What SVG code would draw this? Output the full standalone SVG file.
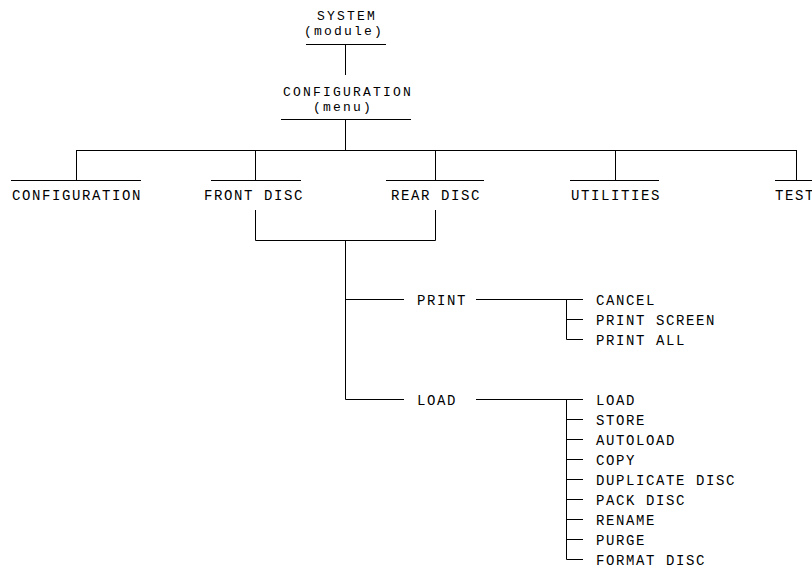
<svg xmlns="http://www.w3.org/2000/svg" width="812" height="569" viewBox="0 0 812 569">
<style>
text{font-family:"Liberation Mono","DejaVu Sans Mono",monospace;font-size:14px;letter-spacing:1.6px;fill:#000}
text.s{font-size:13px;letter-spacing:2.2px}
.c line,.c path{stroke:#000;stroke-width:1;fill:none}
</style>
<rect width="812" height="569" fill="#fff"/>
<g class="c" id="connectors">
<line x1="306" y1="44.5" x2="386" y2="44.5"/>
<line x1="345.5" y1="44" x2="345.5" y2="75"/>
<line x1="281" y1="119.5" x2="411" y2="119.5"/>
<line x1="345.5" y1="119" x2="345.5" y2="150"/>
<line x1="76" y1="150.5" x2="796.5" y2="150.5"/>
<line x1="76.5" y1="150" x2="76.5" y2="180"/>
<line x1="255.5" y1="150" x2="255.5" y2="180"/>
<line x1="435.5" y1="150" x2="435.5" y2="180"/>
<line x1="615.5" y1="150" x2="615.5" y2="180"/>
<line x1="796.5" y1="150" x2="796.5" y2="180"/>
<line x1="11" y1="180.5" x2="141" y2="180.5"/>
<line x1="211" y1="180.5" x2="301" y2="180.5"/>
<line x1="386" y1="180.5" x2="484" y2="180.5"/>
<line x1="570" y1="180.5" x2="659" y2="180.5"/>
<line x1="775" y1="180.5" x2="812" y2="180.5"/>
<path d="M255.5 210V240.5H435.5V210"/>
<path d="M345.5 240V399.5H404"/>
<line x1="345" y1="299.5" x2="404" y2="299.5"/>
<line x1="476" y1="299.5" x2="583" y2="299.5"/>
<path d="M566.5 299V339.5H583"/>
<line x1="566" y1="319.5" x2="583" y2="319.5"/>
<line x1="476" y1="399.5" x2="583" y2="399.5"/>
<path d="M566.5 399V559.5H583"/>
<line x1="566" y1="419.5" x2="583" y2="419.5"/>
<line x1="566" y1="439.5" x2="583" y2="439.5"/>
<line x1="566" y1="459.5" x2="583" y2="459.5"/>
<line x1="566" y1="479.5" x2="583" y2="479.5"/>
<line x1="566" y1="499.5" x2="583" y2="499.5"/>
<line x1="566" y1="519.5" x2="583" y2="519.5"/>
<line x1="566" y1="539.5" x2="583" y2="539.5"/>
</g>
<g id="system"><text class="s" x="317" y="20">SYSTEM</text><text class="s" x="304" y="35">(module)</text></g>
<g id="config-menu"><text class="s" x="283" y="96">CONFIGURATION</text><text class="s" x="313" y="111">(menu)</text></g>
<g id="configuration"><text x="12" y="200">CONFIGURATION</text></g>
<g id="front-disc"><text x="204" y="200">FRONT DISC</text></g>
<g id="rear-disc"><text x="391" y="200">REAR DISC</text></g>
<g id="utilities"><text x="571" y="200">UTILITIES</text></g>
<g id="test"><text x="775" y="200">TEST</text></g>
<g id="print"><text x="417" y="305">PRINT</text></g>
<g id="load"><text x="417" y="405">LOAD</text></g>
<g id="print-items">
<text x="596" y="305">CANCEL</text>
<text x="596" y="325">PRINT SCREEN</text>
<text x="596" y="345">PRINT ALL</text>
</g>
<g id="load-items">
<text x="596" y="405">LOAD</text>
<text x="596" y="425">STORE</text>
<text x="596" y="445">AUTOLOAD</text>
<text x="596" y="465">COPY</text>
<text x="596" y="485">DUPLICATE DISC</text>
<text x="596" y="505">PACK DISC</text>
<text x="596" y="525">RENAME</text>
<text x="596" y="545">PURGE</text>
<text x="596" y="565">FORMAT DISC</text>
</g>
</svg>
